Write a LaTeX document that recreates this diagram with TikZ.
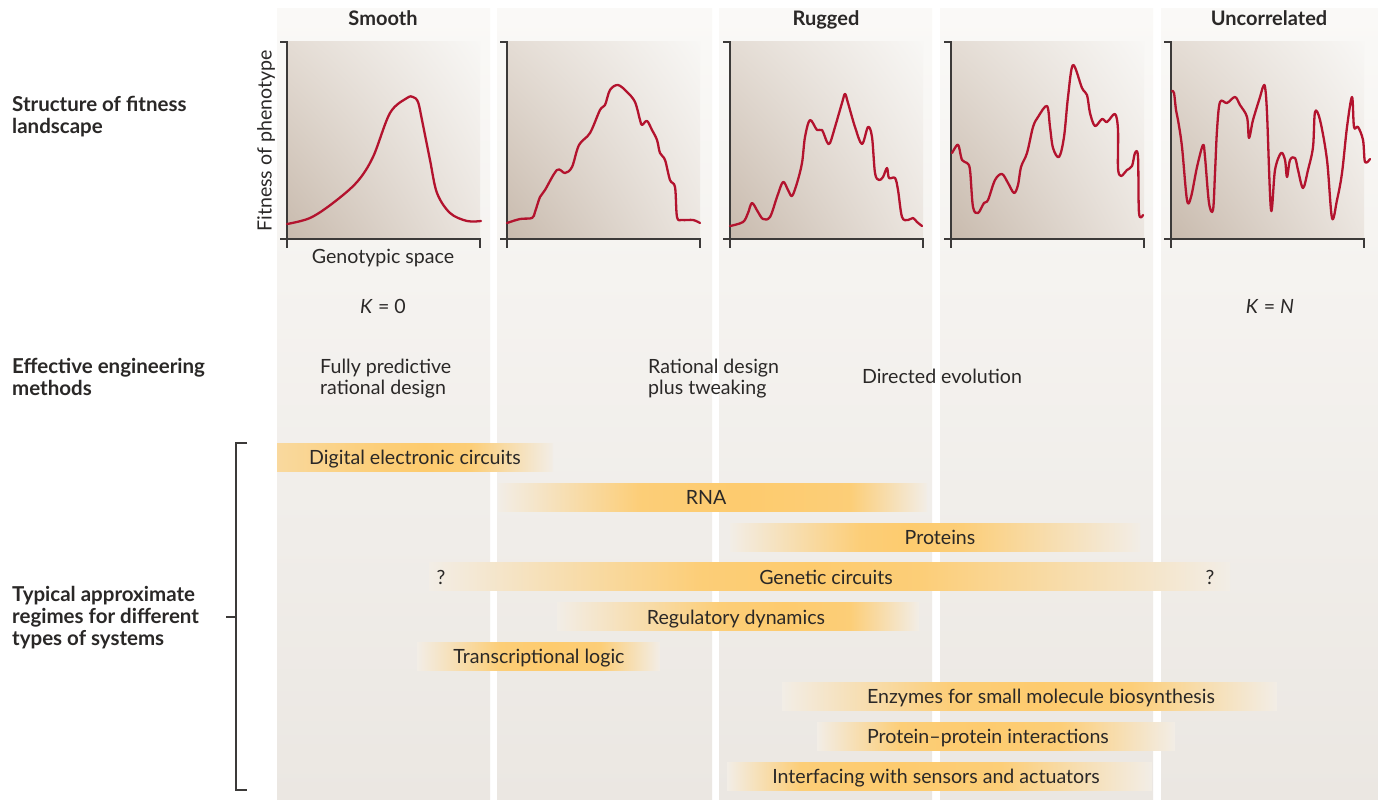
\documentclass[tikz,border=0pt]{standalone}
\usepackage{fontspec}
\setmainfont{Lato}
\usetikzlibrary{shadings}
\definecolor{txt}{HTML}{2A2827}
\definecolor{colTop}{HTML}{FAF9F7}
\definecolor{colBot}{HTML}{EBE7E2}
\definecolor{barpk}{HTML}{FDCB6E}
\definecolor{barend}{HTML}{F2EDE6}
\definecolor{crv}{HTML}{B3132E}
\definecolor{axc}{HTML}{3C3A39}
\definecolor{gDark}{HTML}{C8BAAD}
\definecolor{gMidA}{HTML}{E4DCD4}
\definecolor{gMidB}{HTML}{EBE5DF}
\definecolor{gLight}{HTML}{F8F7F5}
% x1, plateau start, plateau end, x2, y, start colour
\newcommand{\gradbar}[6]{%
  \fill[left color=#6,right color=barpk!92!barend] (#1,#5) rectangle (#2+0.5,#5+28);
  \fill[left color=barpk!92!barend,right color=barpk!92!barend,middle color=barpk] (#2,#5) rectangle (#3+0.5,#5+28);
  \fill[left color=barpk!92!barend,right color=barend] (#3,#5) rectangle (#4,#5+28);}
\begin{document}
\begin{tikzpicture}[x=1pt,y=-1pt,
  every node/.style={text=txt,inner sep=0pt},
  norm/.style={font=\fontsize{19.6}{22}\selectfont},
  hdr/.style={font=\bfseries\fontsize{20}{22}\selectfont,anchor=base},
  lbl/.style={font=\bfseries\fontsize{20.5}{22}\selectfont,align=left,anchor=north west},
  meth/.style={font=\fontsize{19.6}{21}\selectfont,align=left,anchor=north west},
  bartext/.style={font=\fontsize{19.6}{22}\selectfont,anchor=mid},
  axisline/.style={draw=axc,line width=1.3pt},
  curveline/.style={draw=crv,line width=2.3pt,line cap=round,line join=round}]
\useasboundingbox (0,0) rectangle (1378,800);
\fill[white] (0,0) rectangle (1378,800);
% columns
\foreach \a/\b in {277/490,497/712,719/932,940/1153,1161/1378}{
  \shade[top color=colTop,bottom color=colBot] (\a,9) rectangle (\b,800);}
% headers
\node[hdr] (hSmooth) at (383,26) {Smooth};
\node[hdr] (hRugged) at (826,26) {Rugged};
\node[hdr] (hUncor) at (1269,26) {Uncorrelated};
% left labels
\node[lbl] (lStruct) at (12,96) {Structure of fitness\\landscape};
\node[lbl] (lEff) at (12,358) {Effective engineering\\methods};
\node[lbl] (lTyp) at (12,586) {Typical approximate\\regimes for different\\types of systems};
% plots
\foreach \L in {287,507,730,951,1171}{
  \shade[lower left=gDark,upper left=gMidA,lower right=gMidB,upper right=gLight] (\L,42) rectangle (\L+193,239);
  \draw[axisline] (\L-7,42) -- (\L,42) -- (\L,248);
  \draw[axisline] (\L-7,239) -- (\L+193,239) -- (\L+193,248);
}
\node[norm,rotate=90,anchor=mid] (yLab) at (269,141) {Fitness of phenotype};
\node[norm,anchor=base] (xLab) at (383,263) {Genotypic space};
% curves
\draw[curveline] plot[smooth,tension=0.55] coordinates {(287,224) (310,218) (333,203) (357,182) (373,157) (390,113) (407,98) (413,97) (418,102) (422,120) (430,160) (437,193) (450,213) (467,221) (481,221)};
\draw[curveline] plot[smooth,tension=0.55] coordinates {(507,223) (520,219) (532,218) (535,212) (540,197) (545,190) (557,170) (565,173) (572,167) (579,145) (590,133) (600,110) (605,105) (610,90) (618,85) (627,92) (635,102) (640,120) (642,125) (647,121) (652,130) (657,140) (660,153) (665,160) (670,180) (675,187) (677,217) (682,220) (693,220) (700,223)};
\draw[curveline] plot[smooth,tension=0.55] coordinates {(730,226) (743,222) (748,213) (752,203) (758,212) (763,219) (770,217) (777,197) (783,182) (788,190) (792,196) (797,183) (802,163) (805,137) (810,120) (817,130) (822,130) (827,142) (830,143) (835,127) (842,103) (845,94) (848,103) (855,127) (862,144) (868,127) (872,137) (875,173) (879,180) (883,177) (887,168) (889,178) (895,178) (898,190) (902,217) (908,220) (913,218) (917,222) (922,226)};
\draw[curveline] plot[smooth,tension=0.55] coordinates {(952,153) (957,145) (959,147) (962,160) (967,163) (970,170) (973,207) (978,213) (984,203) (988,200) (995,180) (1002,174) (1008,183) (1014,193) (1018,185) (1021,167) (1027,153) (1033,127) (1038,117) (1047,106) (1050,127) (1053,148) (1059,157) (1064,137) (1068,97) (1073,65) (1082,88) (1087,95) (1090,113) (1095,126) (1102,119) (1107,122) (1115,114) (1118,130) (1118,168) (1121,176) (1127,170) (1132,166) (1135,153) (1138,157) (1139,213) (1143,215)};
\draw[curveline] plot[smooth,tension=0.55] coordinates {(1172,91) (1174,93) (1176,110) (1178,120) (1182,147) (1187,200) (1191,197) (1197,167) (1203,145) (1205,157) (1209,203) (1213,210) (1215,173) (1217,130) (1220,102) (1227,103) (1235,97) (1240,105) (1247,117) (1249,138) (1253,120) (1260,97) (1263,87) (1265,87) (1267,113) (1271,210) (1275,170) (1281,153) (1285,160) (1287,177) (1290,160) (1295,158) (1298,170) (1303,188) (1308,170) (1313,147) (1315,112) (1320,120) (1327,160) (1332,218) (1337,200) (1342,173) (1347,127) (1352,97) (1354,127) (1358,127) (1363,140) (1365,162) (1370,159)};
% K labels and methods
\node[norm,anchor=base] (k0) at (383,313) {\textit{K} = 0};
\node[norm,anchor=base] (kN) at (1270,313) {\textit{K} = \textit{N}};
\node[meth] (mFully) at (320,359) {Fully predictive\\rational design};
\node[meth] (mRat) at (648,359) {Rational design\\plus tweaking};
\node[norm,anchor=mid] (mDir) at (942,381) {Directed evolution};
% bracket
\coordinate (bTop) at (236,443);
\coordinate (bBot) at (236,790);
\coordinate (bMid) at (236,617);
\draw[axisline,line width=1.2pt] ([xshift=11pt]bTop) -- (bTop) -- (bBot) -- ([xshift=11pt]bBot);
\draw[axisline,line width=1.2pt] (bMid) -- ([xshift=-10pt]bMid);
% bars
\gradbar{277}{380}{470}{553}{443}{barpk!60!barend}
\node[bartext] (tDig) at (415,462) {Digital electronic circuits};
\gradbar{498}{640}{850}{927}{483}{barend}
\node[bartext] (tRNA) at (706,502) {RNA};
\gradbar{730}{860}{960}{1140}{523}{barend}
\node[bartext] (tProt) at (940,542) {Proteins};
\gradbar{429}{700}{920}{1230}{562}{barend}
\node[bartext] (tGen) at (826,582) {Genetic circuits};
\node[bartext] (qL) at (441,582) {?};
\node[bartext] (qR) at (1210,582) {?};
\gradbar{557}{720}{850}{919}{602}{barend}
\node[bartext] (tReg) at (736,622) {Regulatory dynamics};
\gradbar{417}{500}{600}{660}{642}{barend}
\node[bartext] (tTrans) at (539,661) {Transcriptional logic};
\gradbar{782}{950}{1130}{1277}{682}{barend}
\node[bartext] (tEnz) at (1041,701) {Enzymes for small molecule biosynthesis};
\gradbar{817}{900}{1060}{1175}{722}{barend}
\node[bartext] (tPP) at (988,741) {Protein--protein interactions};
\gradbar{727}{800}{1000}{1152}{762}{barend}
\node[bartext] (tInt) at (936,781) {Interfacing with sensors and actuators};
\end{tikzpicture}
\end{document}
